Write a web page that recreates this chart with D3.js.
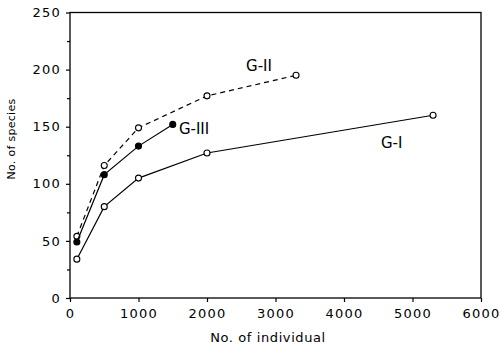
<!doctype html>
<html lang="en">
<head>
<meta charset="UTF-8">
<title>Species vs individuals</title>
<style>
  body { margin: 0; background: #fff; }
  svg text { font-family: "DejaVu Sans", sans-serif; fill: #000; }
</style>
</head>
<body>
<div class="chart"></div>
<script src="https://d3js.org/d3.v7.min.js"></script>
<script>
  const g1 = [[100, 34], [500, 80], [1000, 105], [2000, 127], [5300, 160]]
  const g2 = [[100, 54], [500, 116], [1000, 149], [2000, 177], [3300, 195]]
  const g3 = [[100, 49], [500, 108], [1000, 133], [1500, 152]]
  const xTicks = [0, 1000, 2000, 3000, 4000, 5000, 6000]
  const yTicks = [0, 50, 100, 150, 200, 250]
  const yMinor = [25, 75, 125, 175, 225]

  const width = 500
  const height = 347
  const margin = {top: 12.5, right: 19, bottom: 49, left: 70}

  const svg = d3.select('.chart')
    .append('svg')
    .attr('width', width)
    .attr('height', height)

  const x = d3.scaleLinear().domain([0, 6000]).range([margin.left, width - margin.right])
  const y = d3.scaleLinear().domain([0, 250]).range([height - margin.bottom, margin.top])

  // frame
  svg.append('rect')
    .attr('x', x(0))
    .attr('y', y(250))
    .attr('width', x(6000) - x(0))
    .attr('height', y(0) - y(250))
    .attr('fill', 'none')
    .attr('stroke', '#000')
    .attr('stroke-width', 1.3)

  const xAxis = svg.append('g')
    .attr('transform', `translate(0, ${y(0)})`)
    .call(d3.axisBottom(x).tickValues(xTicks).tickSize(4).tickPadding(4).tickFormat(d3.format('d')))
  const yAxis = svg.append('g')
    .attr('transform', `translate(${x(0)}, 0)`)
    .call(d3.axisLeft(y).tickValues(yTicks).tickSize(4).tickPadding(5))
  svg.append('g')
    .attr('transform', `translate(${x(0)}, 0)`)
    .call(d3.axisLeft(y).tickValues(yMinor).tickSize(3).tickFormat(''))
    .select('.domain').remove()

  svg.selectAll('.domain').remove()
  svg.selectAll('.tick line').attr('stroke-width', 1.2)
  svg.selectAll('.tick text')
    .style('font-family', '"DejaVu Sans", sans-serif')
    .style('font-size', '13px')
    .style('letter-spacing', '1.2px')
  xAxis.selectAll('.tick text').attr('dy', '0.9em')

  const line = d3.line().x(d => x(d[0])).y(d => y(d[1]))

  const series = [
    {data: g1, dash: null, fill: '#fff'},
    {data: g2, dash: '5,4', fill: '#fff'},
    {data: g3, dash: null, fill: '#000'}
  ]

  series.forEach(s => {
    svg.append('path')
      .datum(s.data)
      .attr('d', line)
      .attr('fill', 'none')
      .attr('stroke', '#000')
      .attr('stroke-width', 1.2)
      .attr('stroke-dasharray', s.dash)
    svg.append('g')
      .selectAll('circle')
      .data(s.data)
      .enter()
      .append('circle')
      .attr('cx', d => x(d[0]))
      .attr('cy', d => y(d[1]))
      .attr('r', 3)
      .attr('fill', s.fill)
      .attr('stroke', '#000')
      .attr('stroke-width', 1.1)
  })

  const labels = [
    {text: 'G-II', at: [2570, 199]},
    {text: 'G-III', at: [1590, 144]},
    {text: 'G-I', at: [4540, 131]}
  ]
  svg.selectAll('.glabel')
    .data(labels)
    .enter()
    .append('text')
    .attr('class', 'glabel')
    .attr('x', d => x(d.at[0]))
    .attr('y', d => y(d.at[1]))
    .style('font-size', '15px')
    .text(d => d.text)

  svg.append('text')
    .attr('x', 268)
    .attr('y', 342)
    .attr('text-anchor', 'middle')
    .style('font-size', '13px')
    .style('letter-spacing', '0.6px')
    .text('No. of individual')

  svg.append('text')
    .attr('transform', 'translate(15, 139) rotate(-90)')
    .attr('text-anchor', 'middle')
    .style('font-size', '11px')
    .style('letter-spacing', '0.3px')
    .text('No. of species')
</script>
</body>
</html>
